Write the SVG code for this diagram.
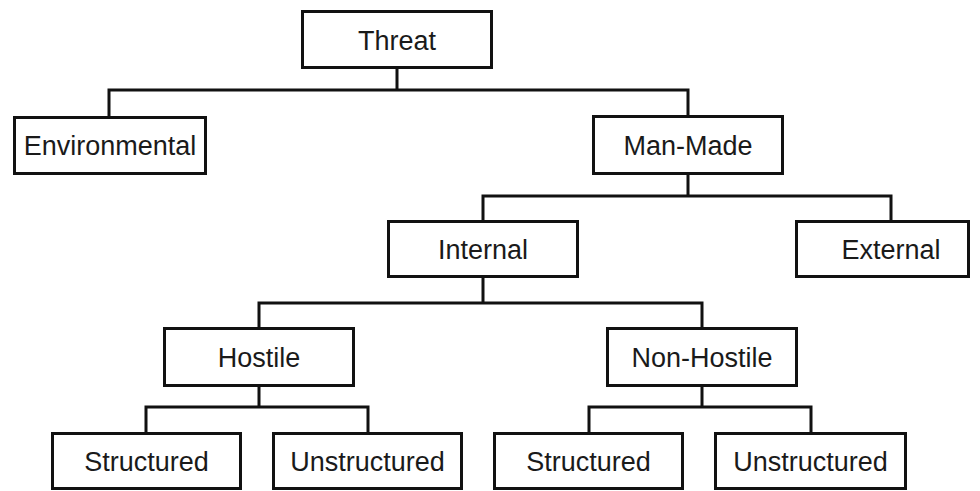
<svg xmlns="http://www.w3.org/2000/svg" width="980" height="491" viewBox="0 0 980 491">
  <style>
    .box { fill: #ffffff; stroke: #111111; stroke-width: 3; }
    .lbl { font-family: "Liberation Sans", Arial, Helvetica, sans-serif; font-size: 27px; fill: #1a1a1a; text-anchor: middle; }
    .wire { fill: none; stroke: #111111; stroke-width: 3; stroke-linejoin: miter; }
  </style>
  <rect width="980" height="491" fill="#ffffff"/>

  <!-- tree connectors -->
  <g id="connectors">
    <path class="wire" d="M397 69 V90 M109 116 V90 H688 V115"/>
    <path class="wire" d="M688 175 V196 M483 220 V196 H891 V220"/>
    <path class="wire" d="M483 278 V303 M259 327 V303 H702 V327"/>
    <path class="wire" d="M259 387 V407 M146 432 V407 H368 V432"/>
    <path class="wire" d="M702 387 V407 M589 432 V407 H811 V432"/>
  </g>

  <g id="threat">
    <rect class="box" x="302.5" y="11.5" width="189" height="56"/>
    <text class="lbl" x="397" y="49.5">Threat</text>
  </g>
  <g id="environmental">
    <rect class="box" x="14.5" y="117.5" width="191" height="56"/>
    <text class="lbl" x="110" y="155">Environmental</text>
  </g>
  <g id="man-made">
    <rect class="box" x="593.5" y="116.5" width="189" height="57"/>
    <text class="lbl" x="688" y="155">Man-Made</text>
  </g>
  <g id="internal">
    <rect class="box" x="388.5" y="221.5" width="189" height="55"/>
    <text class="lbl" x="483" y="259">Internal</text>
  </g>
  <g id="external">
    <rect class="box" x="796.5" y="221.5" width="172" height="55"/>
    <text class="lbl" x="891" y="259">External</text>
  </g>
  <g id="hostile">
    <rect class="box" x="164.5" y="328.5" width="189" height="57"/>
    <text class="lbl" x="259" y="367">Hostile</text>
  </g>
  <g id="non-hostile">
    <rect class="box" x="607.5" y="328.5" width="189" height="57"/>
    <text class="lbl" x="702" y="367">Non-Hostile</text>
  </g>
  <g id="hostile-structured">
    <rect class="box" x="52.5" y="433.5" width="188" height="55"/>
    <text class="lbl" x="146.5" y="471">Structured</text>
  </g>
  <g id="hostile-unstructured">
    <rect class="box" x="273.5" y="433.5" width="188" height="55"/>
    <text class="lbl" x="367.5" y="471">Unstructured</text>
  </g>
  <g id="non-hostile-structured">
    <rect class="box" x="494.5" y="433.5" width="188" height="55"/>
    <text class="lbl" x="588.5" y="471">Structured</text>
  </g>
  <g id="non-hostile-unstructured">
    <rect class="box" x="715.5" y="433.5" width="190" height="55"/>
    <text class="lbl" x="810.5" y="471">Unstructured</text>
  </g>
</svg>
